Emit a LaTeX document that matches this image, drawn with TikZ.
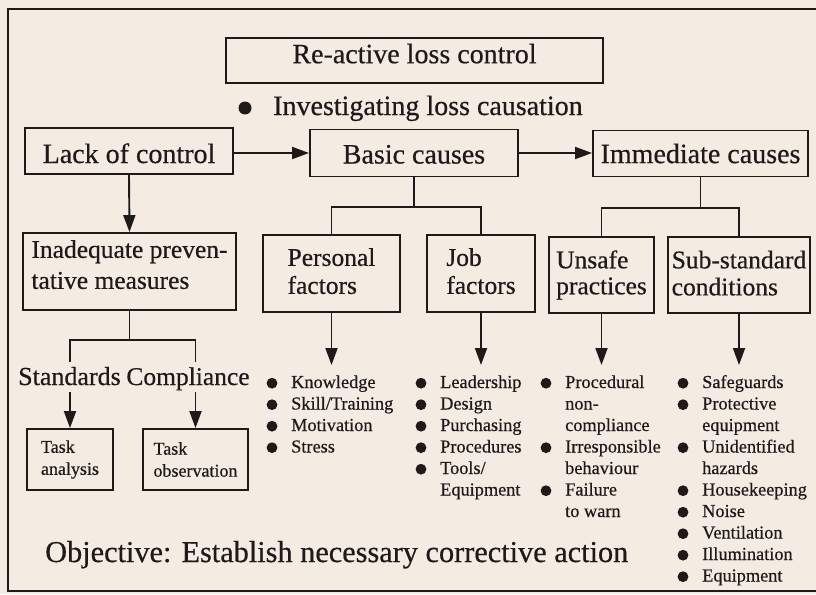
\documentclass[tikz,border=0pt]{standalone}
\usepackage{fontspec}
\setmainfont{Liberation Serif}[FakeBold=0.5]
\usetikzlibrary{arrows.meta,calc}
\definecolor{paper}{RGB}{244,235,227}
\definecolor{ink}{RGB}{30,26,26}
% list lines: name, text x, line index, text
\newcommand\bitem[4]{%
  \fill[ink] (#2-19,{388+21.5*#3-4.8}) circle (5.4);
  \node[listtxt] (#1) at (#2,{388+21.5*#3}) {#4};}
\newcommand\citem[4]{%
  \node[listtxt] (#1) at (#2,{388+21.5*#3}) {#4};}
\tikzset{
  box/.style={draw=ink, line width=1.9pt, inner sep=0pt, align=left, text=ink},
  bigf/.style={font=\fontsize{28}{30}\selectfont},
  midf/.style={font=\fontsize{25.5}{28}\selectfont},
  smallf/.style={font=\fontsize{18}{22}\selectfont},
  plaintxt/.style={inner sep=0pt, text=ink},
  listtxt/.style={anchor=base west, inner sep=0pt, text=ink, font=\fontsize{18.3}{21}\selectfont},
  conn/.style={draw=ink, line width=1.9pt},
  arr/.style={draw=ink, line width=1.9pt, -{Triangle[length=17pt,width=12pt]}}
}
\begin{document}
\begin{tikzpicture}[x=1pt,y=-1pt]
\fill[paper] (0,0) rectangle (816,594);
\useasboundingbox (0,0) rectangle (816,594);
\draw[conn, line width=2pt] (816,9) -- (8,9) -- (8,591) -- (816,591);

% header
\node[box,bigf,minimum width=377pt,minimum height=45pt,text depth=14pt] (react) at (414.5,60.5) {Re-active loss control};
\fill[ink] (245,108) circle (6.5);
\node[plaintxt,bigf,anchor=base west] (invest) at (273,115) {Investigating loss causation};

% top row
\node[box,bigf,minimum width=208pt,minimum height=46pt,text height=24pt,text depth=0pt] (lack) at (129,151) {Lack of control};
\node[box,bigf,minimum width=208pt,minimum height=47pt,text height=21pt,text depth=0pt] (basic) at (414,153) {Basic causes};
\node[box,bigf,minimum width=215pt,minimum height=46pt] (imm) at (700.5,153.5) {Immediate causes};

\draw[arr] (lack.east |- basic.west) -- (basic.west);
\draw[arr] (basic.east) -- (basic.east -| imm.west);

% second row
\node[box,font=\fontsize{25.5}{31}\selectfont,minimum width=213pt,minimum height=77pt,text depth=14pt] (inad) at (129.5,271.5) {Inadequate preven-\\tative measures};
\node[box,midf,minimum width=137pt,minimum height=77pt,text depth=5pt] (pers) at (331.5,273.5) {Personal\\factors};
\node[box,midf,minimum width=108pt,minimum height=77pt,text depth=5pt] (job) at (481,273.5) {Job\\factors};
\node[box,font=\fontsize{25.5}{26}\selectfont,minimum width=105pt,minimum height=76pt] (unsafe) at (601.5,275) {Unsafe\\practices};
\node[box,font=\fontsize{25.5}{27}\selectfont,minimum width=142pt,minimum height=76pt,text depth=4pt] (sub) at (739,275) {Sub-standard\\conditions};

\draw[arr] (lack.south) -- (inad.north);

% basic causes tree
\coordinate (bj) at (414,207);
\draw[conn] (basic.south) -- (bj);
\draw[conn] (pers.north) |- (bj) -| (job.north);
% immediate causes tree
\coordinate (ij) at (700.5,208);
\draw[conn] (imm.south) -- (ij);
\draw[conn] (unsafe.north) |- (ij) -| (sub.north);

% down arrows to lists
\coordinate (pe) at (331.5,365);
\coordinate (je) at (481,365);
\coordinate (ue) at (601.5,365);
\coordinate (se) at (739,365);
\draw[arr] (pers.south) -- (pe);
\draw[arr] (job.south) -- (je);
\draw[arr] (unsafe.south) -- (ue);
\draw[arr] (sub.south) -- (se);

% inadequate measures tree
\coordinate (aj) at (129.5,340);
\coordinate (sL) at (70,362);
\coordinate (sR) at (195.5,362);
\draw[conn] (inad.south) -- (aj);
\draw[conn] (sL) |- (aj) -| (sR);
\node[plaintxt,font=\fontsize{26}{28}\selectfont,anchor=base] (stand) at (69.5,385) {Standards};
\node[plaintxt,font=\fontsize{25.5}{28}\selectfont,anchor=base] (comp) at (188,385) {Compliance};

\node[box,smallf,minimum width=86pt,minimum height=61pt] (taskA) at (70,459.5) {Task\\analysis};
\node[box,smallf,minimum width=105pt,minimum height=61pt] (taskO) at (195.5,459.5) {Task\\observation};
\coordinate (sa) at (70,392);
\coordinate (ca) at (195.5,392);
\draw[arr] (sa) -- (taskA.north);
\draw[arr] (ca) -- (taskO.north);

% lists
\bitem{p1}{291}{0}{Knowledge}
\bitem{p2}{291}{1}{Skill/Training}
\bitem{p3}{291}{2}{Motivation}
\bitem{p4}{291}{3}{Stress}

\bitem{j1}{440}{0}{Leadership}
\bitem{j2}{440}{1}{Design}
\bitem{j3}{440}{2}{Purchasing}
\bitem{j4}{440}{3}{Procedures}
\bitem{j5}{440}{4}{Tools/}
\citem{j6}{440}{5}{Equipment}

\bitem{u1}{565}{0}{Procedural}
\citem{u2}{565}{1}{non-}
\citem{u3}{565}{2}{compliance}
\bitem{u4}{565}{3}{Irresponsible}
\citem{u5}{565}{4}{behaviour}
\bitem{u6}{565}{5}{Failure}
\citem{u7}{565}{6}{to warn}

\bitem{s1}{702}{0}{Safeguards}
\bitem{s2}{702}{1}{Protective}
\citem{s3}{702}{2}{equipment}
\bitem{s4}{702}{3}{Unidentified}
\citem{s5}{702}{4}{hazards}
\bitem{s6}{702}{5}{Housekeeping}
\bitem{s7}{702}{6}{Noise}
\bitem{s8}{702}{7}{Ventilation}
\bitem{s9}{702}{8}{Illumination}
\bitem{s10}{702}{9}{Equipment}

\node[plaintxt,font=\fontsize{30.3}{32}\selectfont,anchor=base west] (obj) at (45,562) {Objective: Establish necessary corrective action};
\end{tikzpicture}
\end{document}
